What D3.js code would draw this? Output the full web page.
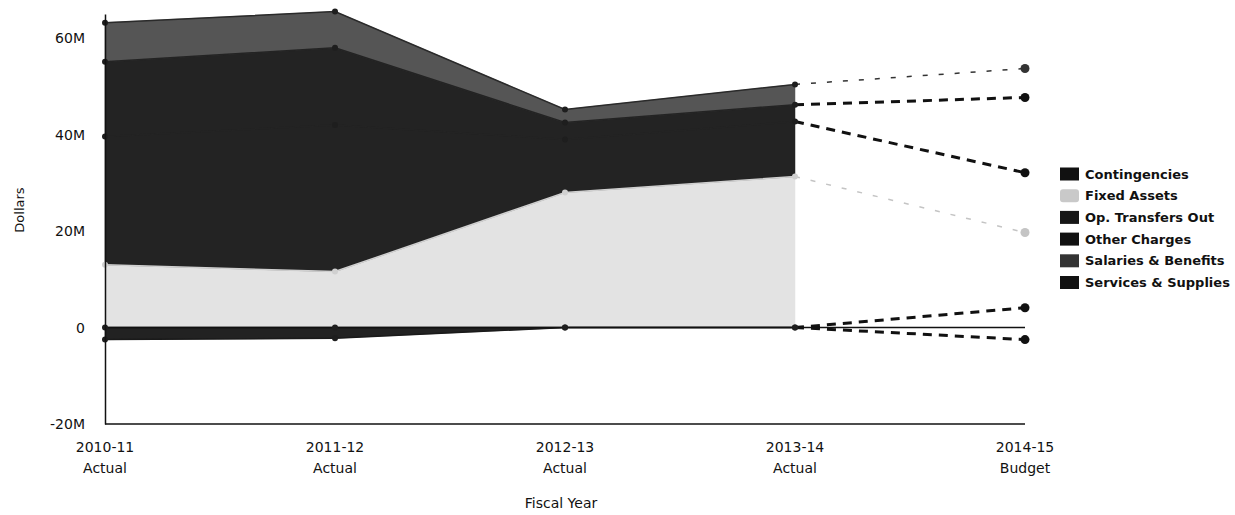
<!DOCTYPE html>
<html>
<head>
<meta charset="utf-8">
<script src="https://cdn.jsdelivr.net/npm/d3@7"></script>
<style>
    body { margin: 0; background: #fff; }
    text { font-family: 'DejaVu Sans', sans-serif; fill: #111; }
    .tick line { display: none; }
    .domain { stroke: #111; stroke-width: 1.5; }
    .legend text { font-weight: bold; font-size: 13px; }
</style>
</head>
<body>
<script>
// values in millions of dollars
const years = ['2010-11', '2011-12', '2012-13', '2013-14', '2014-15']
const kinds = ['Actual', 'Actual', 'Actual', 'Actual', 'Budget']

const contingencies = [0, 0, 0, 0, 4.1]
const fixedAssets = [13, 11.6, 28, 31.3, 15.6]
const opTransfersOut = [-2.5, -2.2, 0, 0, -2.5]
const otherCharges = [26.6, 30.4, 11, 11.4, 12.4]
const servicesSupplies = [15.5, 16, 3.5, 3.5, 15.6]
const salariesBenefits = [8.1, 7.5, 2.7, 4.2, 6.0]

const legendNames = ['Contingencies', 'Fixed Assets', 'Op. Transfers Out', 'Other Charges', 'Salaries & Benefits', 'Services & Supplies']
const yTicks = [-20, 0, 20, 40, 60]

// stacking order bottom -> top
let stackKeys = ['Contingencies', 'Fixed Assets', 'Op. Transfers Out', 'Other Charges', 'Services & Supplies', 'Salaries & Benefits']

let colors = {
    'Contingencies': '#222',
    'Fixed Assets': '#e3e3e3',
    'Op. Transfers Out': '#222',
    'Other Charges': '#232323',
    'Services & Supplies': '#232323',
    'Salaries & Benefits': '#555'
}
let edgeColors = {
    'Contingencies': '#1a1a1a',
    'Fixed Assets': '#d0d0d0',
    'Op. Transfers Out': '#1a1a1a',
    'Other Charges': '#232323',
    'Services & Supplies': '#232323',
    'Salaries & Benefits': '#2a2a2a'
}
let dashColors = {
    'Contingencies': '#111',
    'Fixed Assets': '#c4c4c4',
    'Op. Transfers Out': '#111',
    'Other Charges': '#111',
    'Services & Supplies': '#111',
    'Salaries & Benefits': '#333'
}
let swatchColors = {
    'Contingencies': '#111',
    'Fixed Assets': '#c9c9c9',
    'Op. Transfers Out': '#161616',
    'Other Charges': '#111',
    'Salaries & Benefits': '#333',
    'Services & Supplies': '#111'
}

let table = years.map((y, i) => ({
    year: y,
    'Contingencies': contingencies[i] * 1e6,
    'Fixed Assets': fixedAssets[i] * 1e6,
    'Op. Transfers Out': opTransfersOut[i] * 1e6,
    'Other Charges': otherCharges[i] * 1e6,
    'Services & Supplies': servicesSupplies[i] * 1e6,
    'Salaries & Benefits': salariesBenefits[i] * 1e6
}))

let stacked = d3.stack()
    .keys(stackKeys)
    .offset(d3.stackOffsetDiverging)(table)

let width = 1235, height = 515

let svg = d3.select('body').append('svg')
    .attr('width', width)
    .attr('height', height)

let xScale = d3.scalePoint().domain(years).range([105, 1025])
let yScale = d3.scaleLinear().domain([-20e6, 65e6]).range([424, 14])

// filled areas for the actual years
let area = d3.area()
    .x(d => xScale(d.data.year))
    .y0(d => yScale(d[0]))
    .y1(d => yScale(d[1]))

let actualIdx = [0, 1, 2, 3]

let plot = svg.append('g')

stacked.forEach(s => {
    let pts = actualIdx.map(i => s[i])
    plot.append('path')
        .datum(pts)
        .attr('d', area)
        .style('fill', colors[s.key])
        .style('stroke', colors[s.key])
        .style('stroke-width', 0.5)
})

// outer edge of each layer
let edge = (s, i) => {
    let v = table[i][s.key]
    return v < 0 ? s[i][0] : s[i][1]
}

stacked.forEach(s => {
    let line = d3.line()
        .x(i => xScale(years[i]))
        .y(i => yScale(edge(s, i)))
    plot.append('path')
        .datum(actualIdx)
        .attr('d', line)
        .style('fill', 'none')
        .style('stroke', edgeColors[s.key])
        .style('stroke-width', 1.5)
})

// zero line
plot.append('line')
    .attr('x1', xScale(years[0])).attr('x2', xScale(years[4]))
    .attr('y1', yScale(0)).attr('y2', yScale(0))
    .style('stroke', '#111')
    .style('stroke-width', 1.5)

// budget projections: dashed lines from the last actual year
stacked.forEach(s => {
    let thin = s.key == 'Salaries & Benefits' || s.key == 'Fixed Assets'
    let line = d3.line()
        .x(i => xScale(years[i]))
        .y(i => yScale(edge(s, i)))
    plot.append('path')
        .datum([3, 4])
        .attr('d', line)
        .style('fill', 'none')
        .style('stroke', dashColors[s.key])
        .style('stroke-width', thin ? 1.5 : 3)
        .style('stroke-dasharray', thin ? '5,11' : '9,7')
})

// dots
stacked.forEach(s => {
    years.forEach((y, i) => {
        plot.append('circle')
            .attr('cx', xScale(y))
            .attr('cy', yScale(edge(s, i)))
            .attr('r', i == 4 ? 4.5 : 3)
            .style('fill', i == 4 ? dashColors[s.key] : (s.key == 'Fixed Assets' ? '#d0d0d0' : '#1e1e1e'))
    })
})

// axes
let yAxis = d3.axisLeft(yScale)
    .tickValues(yTicks.map(d => d * 1e6))
    .tickFormat(d => d == 0 ? '0' : (d / 1e6) + 'M')
    .tickSize(0)
    .tickPadding(20)

let yg = svg.append('g')
    .attr('transform', 'translate(105,0)')
    .call(yAxis)
yg.selectAll('text').style('font-size', '14px')

svg.append('line')
    .attr('x1', 105).attr('x2', 1025)
    .attr('y1', 424).attr('y2', 424)
    .style('stroke', '#111')
    .style('stroke-width', 1.5)

let xg = svg.append('g')
years.forEach((y, i) => {
    let t = xg.append('text')
        .attr('text-anchor', 'middle')
        .attr('x', xScale(y))
        .attr('y', 452)
        .style('font-size', '14px')
    t.append('tspan').attr('x', xScale(y)).text(y)
    t.append('tspan').attr('x', xScale(y)).attr('dy', 21).text(kinds[i])
})

svg.append('text')
    .attr('text-anchor', 'middle')
    .attr('x', 561)
    .attr('y', 508)
    .style('font-size', '14px')
    .text('Fiscal Year')

svg.append('text')
    .attr('text-anchor', 'middle')
    .attr('transform', 'translate(24,210) rotate(-90)')
    .style('font-size', '13px')
    .text('Dollars')

// legend
let legend = svg.append('g').attr('class', 'legend')

legendNames.forEach((name, i) => {
    let cy = 174 + i * 21.7
    legend.append('rect')
        .attr('x', 1060)
        .attr('y', cy - 6.5)
        .attr('width', 19)
        .attr('height', 13)
        .attr('rx', name == 'Fixed Assets' ? 3 : 0)
        .style('fill', swatchColors[name])
    legend.append('text')
        .attr('x', 1085)
        .attr('y', cy + 4.5)
        .text(name)
})
</script>
</body>
</html>
